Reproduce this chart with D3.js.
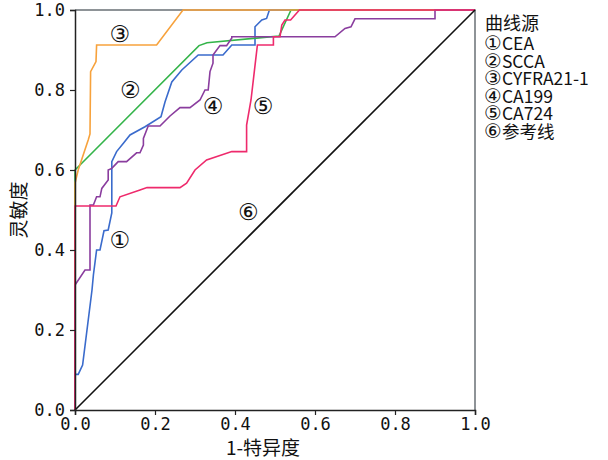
<!DOCTYPE html>
<html>
<head>
<meta charset="utf-8">
<script src="https://cdn.jsdelivr.net/npm/d3@7"></script>
<style>
  body { margin: 0; background: #fff; }
  svg text { font-family: "Noto Sans CJK SC", sans-serif; }
</style>
</head>
<body>
<div id="chart"></div>
<script>
// ROC curves: [1 - specificity, sensitivity]
const cea = [[0,0],[0,0.089],[0.008,0.089],[0.019,0.1125],[0.0425,0.3],[0.046,0.3375],[0.054,0.4],[0.0625,0.4],
  [0.0725,0.448],[0.083,0.45],[0.092,0.4925],[0.092,0.621],[0.104,0.646],[0.121,0.667],[0.1375,0.6875],
  [0.175,0.708],[0.215,0.733],[0.225,0.77],[0.242,0.82],[0.267,0.85],[0.308,0.8875],[0.37,0.8875],
  [0.392,0.9125],[0.45,0.9125],[0.45,0.958],[0.467,0.975],[0.479,0.979],[0.486,1],[1,1]];
const scca = [[0,0],[0,0.6],[0.31,0.911],[0.33,0.918],[0.51,0.935],[0.54,1],[1,1]];
const cyfra = [[0,0],[0,0.567],[0.008,0.6],[0.033,0.675],[0.0375,0.69],[0.039,0.846],[0.0525,0.871],
  [0.054,0.9125],[0.204,0.9125],[0.27,1],[1,1]];
const ca199 = [[0,0],[0,0.3125],[0.025,0.35],[0.0375,0.35],[0.0375,0.5125],[0.046,0.5125],[0.054,0.533],
  [0.0625,0.533],[0.067,0.554],[0.083,0.575],[0.083,0.6],[0.092,0.604],[0.108,0.621],[0.129,0.621],
  [0.154,0.643],[0.1625,0.643],[0.171,0.6625],[0.171,0.679],[0.183,0.71],[0.2125,0.71],[0.2375,0.735],
  [0.2625,0.756],[0.2875,0.756],[0.3125,0.775],[0.325,0.8],[0.333,0.8],[0.3375,0.846],[0.345,0.867],
  [0.345,0.8875],[0.3625,0.911],[0.379,0.911],[0.392,0.93],[0.392,0.933],[0.65,0.933],[0.675,0.954],
  [0.69,0.958],[0.7,0.978],[0.9,0.978],[0.9,1],[1,1]];
const ca724 = [[0,0],[0,0.51],[0.1025,0.51],[0.1125,0.533],[0.1625,0.55],[0.18,0.556],[0.2625,0.556],
  [0.279,0.567],[0.3,0.6],[0.329,0.625],[0.392,0.646],[0.429,0.646],[0.429,0.7125],[0.44,0.775],
  [0.456,0.9125],[0.496,0.9125],[0.496,0.933],[0.5125,0.933],[0.517,0.9625],[0.525,0.975],[0.539,0.975],
  [0.561,1],[1,1]];
const refLine = [[0,0],[1,1]];

const series = [
  { mark: "①", name: "CEA", points: cea, color: "#3a6bcc" },
  { mark: "②", name: "SCCA", points: scca, color: "#34b44a" },
  { mark: "③", name: "CYFRA21-1", points: cyfra, color: "#f7a23c" },
  { mark: "④", name: "CA199", points: ca199, color: "#8a3d9e" },
  { mark: "⑤", name: "CA724", points: ca724, color: "#ee2a6c" },
  { mark: "⑥", name: "参考线", points: refLine, color: "#111111" }
];
// curve number labels placed inside the plot [mark, x, y]
const curveLabels = [["①", 0.112, 0.425], ["②", 0.138, 0.8], ["③", 0.112, 0.94], ["④", 0.345, 0.76],
  ["⑤", 0.47, 0.76], ["⑥", 0.433, 0.495]];
const ticks = [0, 0.2, 0.4, 0.6, 0.8, 1.0];

const width = 608, height = 460;
const svg = d3.select("#chart").append("svg")
  .attr("width", width)
  .attr("height", height);

const x = d3.scaleLinear().domain([0, 1]).range([75, 475]);
const y = d3.scaleLinear().domain([0, 1]).range([410, 10]);

// frame (top/right)
svg.append("path")
  .attr("d", `M${x(0)},${y(1)}H${x(1)}V${y(0)}`)
  .attr("fill", "none")
  .attr("stroke", "#6a7075")
  .attr("stroke-width", 1.5);

const line = d3.line().x(d => x(d[0])).y(d => y(d[1]));

series.forEach(s => {
  svg.append("path")
    .datum(s.points)
    .attr("d", line)
    .attr("fill", "none")
    .attr("stroke", s.color)
    .attr("stroke-width", 1.6);
});

// axes
const fmt = d3.format(".1f");
const xAxis = svg.append("g")
  .attr("transform", `translate(0,${y(0)})`)
  .call(d3.axisBottom(x).tickValues(ticks).tickFormat(fmt).tickSize(5).tickPadding(3));
const yAxis = svg.append("g")
  .attr("transform", `translate(${x(0)},0)`)
  .call(d3.axisLeft(y).tickValues(ticks).tickFormat(fmt).tickSize(5).tickPadding(5));

[xAxis, yAxis].forEach(g => {
  g.select(".domain").attr("stroke", "#222").attr("stroke-width", 1.5);
  g.selectAll(".tick line").attr("stroke", "#222").attr("stroke-width", 1.2);
  g.selectAll(".tick text")
    .attr("fill", "#111")
    .style("font-family", "'DejaVu Sans Mono', monospace")
    .style("font-size", "17px");
});

svg.append("text")
  .attr("x", 263).attr("y", 455)
  .attr("text-anchor", "middle")
  .style("font-size", "19px")
  .attr("fill", "#111")
  .text("1-特异度");

svg.append("text")
  .attr("transform", "translate(26,210) rotate(-90)")
  .attr("text-anchor", "middle")
  .style("font-size", "19px")
  .attr("fill", "#111")
  .text("灵敏度");

svg.selectAll(".clabel")
  .data(curveLabels)
  .enter().append("text")
  .attr("class", "clabel")
  .attr("x", d => x(d[1]))
  .attr("y", d => y(d[2]))
  .attr("text-anchor", "middle")
  .attr("dominant-baseline", "central")
  .style("font-family", "'DejaVu Sans', sans-serif")
  .style("font-size", "23px")
  .attr("fill", "#111")
  .text(d => d[0]);

// legend
const legend = svg.append("g").attr("transform", "translate(484,0)");
legend.append("text").attr("x", 1).attr("y", 30)
  .style("font-size", "18px").attr("fill", "#111").text("曲线源");
const items = legend.selectAll(".item")
  .data(series)
  .enter().append("text")
  .attr("class", "item")
  .attr("x", 0)
  .attr("y", (d, i) => 50 + i * 17.5)
  .attr("fill", "#111");
items.append("tspan")
  .style("font-family", "'DejaVu Sans', sans-serif")
  .style("font-size", "20px")
  .text(d => d.mark);
items.append("tspan")
  .style("font-size", "17.5px")
  .text(d => d.name);
</script>
</body>
</html>
